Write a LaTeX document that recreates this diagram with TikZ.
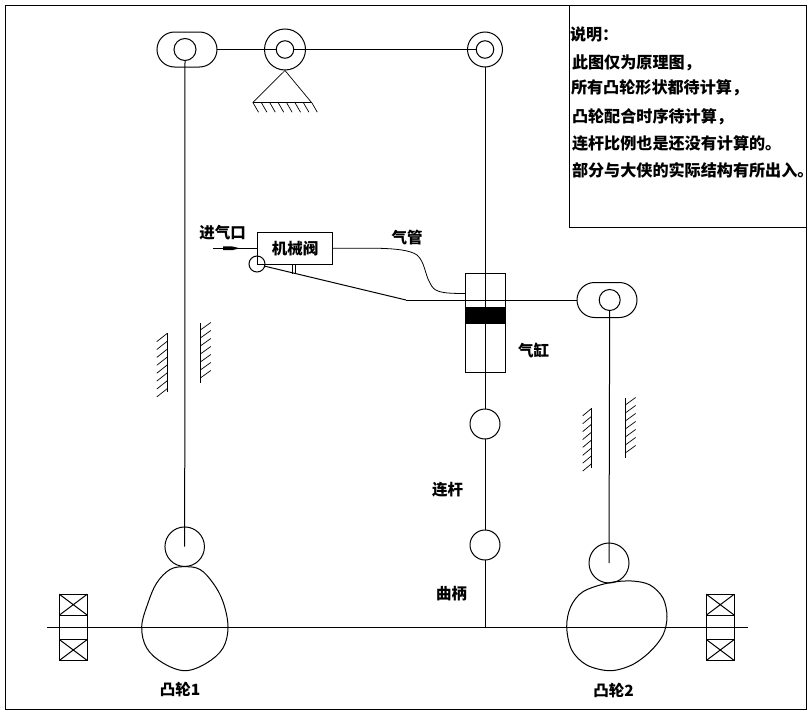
\documentclass[tikz,border=0pt]{standalone}
\usepackage{fontspec}
\newfontfamily\cjk{Noto Sans CJK SC}
\usetikzlibrary{shapes.misc}
\tikzset{
  base/.style={line width=1pt,black},
  ring/.style={base,draw,circle,inner sep=0pt,outer sep=0pt,minimum size=#1},
  slot/.style={base,draw,rounded rectangle,inner sep=0pt,outer sep=0pt,minimum width=60pt,minimum height=35pt},
  boxn/.style={base,draw,rectangle,inner sep=0pt,outer sep=0pt},
  bear/.style={boxn,minimum width=28pt,minimum height=21pt},
  lab/.style={font=\cjk\bfseries\fontsize{15.5pt}{17pt}\selectfont,inner sep=0pt,outer sep=0pt,text=black},
  note/.style={font=\cjk\bfseries\fontsize{16.1pt}{18pt}\selectfont,inner sep=0pt,outer sep=0pt,text=black,anchor=west},
  thin hatch/.style={line width=0.7pt,black}
}
\begin{document}
\begin{tikzpicture}[x=1pt,y=-1pt,base]
\useasboundingbox[fill=white] (0,0) rectangle (812,712);
% frames
\node[boxn,anchor=north west,minimum width=801pt,minimum height=704pt] (frame) at (5,5) {};
\node[boxn,anchor=north west,minimum width=236.5pt,minimum height=222.5pt] (notebox) at (569.5,5) {};
% top linkage
\node[slot] (slotA) at (187,49.5) {};
\node[ring=22pt] (slotApin) at (185,49.5) {};
\node[ring=41pt] (pivot) at (285,49.5) {};
\node[ring=17.5pt] (pivotpin) at (285,49.5) {};
\node[ring=35pt] (rock) at (485,49.5) {};
\node[ring=17.5pt] (rockpin) at (485,49.5) {};
\draw (slotA.east) -- (pivotpin.west);
\draw (pivotpin.east) -- (rockpin.west);
% fixed support
\coordinate (apex) at (285,70.5);
\coordinate (baseL) at (252.7,102.7);
\coordinate (baseR) at (311.7,102.7);
\draw[line width=0.7pt] (baseL) -- (apex) -- (baseR);
\draw (baseL) -- (baseR);
\foreach \x in {253,261.4,269.8,278.2,286.6,295,303.4,311.8}
  \draw[thin hatch] (\x,102.7) -- ++(5.5,9.5);
% guides
\draw (167.3,333.3) -- (167.3,392);
\foreach \i in {0,...,7} \draw[thin hatch] (167.3,333.3+\i*7.9) -- ++(-10.5,8.3);
\draw (200.3,322.7) -- (200.3,382.7);
\foreach \i in {0,...,6} \draw[thin hatch] (200.3,330+\i*8) -- ++(10.5,-7.5);
\draw (591.7,408.3) -- (591.7,468.3);
\foreach \i in {0,...,7} \draw[thin hatch] (591.7,408.3+\i*7.9) -- ++(-9,7.5);
\draw (625.3,398.3) -- (625.3,458.3);
\foreach \i in {0,...,6} \draw[thin hatch] (625.3,405+\i*8) -- ++(10.3,-7.5);
% cam 1 train
\node[ring=39.5pt] (roll1) at (184.7,546.7) {};
\draw (slotApin.south) -- (roll1.center);
\draw plot[smooth cycle,tension=0.6] coordinates {(185,566.7) (170,569.5) (156.7,583) (148,603) (141.7,626.7) (146.7,648) (163,663) (185,670.7) (206.7,663) (223,648) (228,626.7) (223,601.7) (213,583) (200,569.5)};
% cam 2 train
\node[slot] (slotB) at (607,300) {};
\node[ring=21pt] (slotBpin) at (609.7,300) {};
\node[ring=40pt] (roll2) at (609,563) {};
\draw (slotBpin.south) -- (roll2.center);
\draw plot[smooth cycle,tension=0.55] coordinates {(566.7,626.7) (570.7,606.7) (583,591.7) (608,583) (631.7,581) (650,585) (663,598) (667,616.7) (663,635) (650,651.7) (631.7,665) (610,670.7) (586.7,665) (571.7,650)};
% cylinder
\node[boxn,anchor=north west,minimum width=40pt,minimum height=99pt] (cyl) at (465.3,273.3) {};
\node[base,fill=black,draw=black,rectangle,inner sep=0pt,outer sep=0pt,anchor=north west,minimum width=40pt,minimum height=16.5pt] (piston) at (465.3,307.2) {};
\node[ring=30pt] (crankA) at (485,424) {};
\node[ring=30pt] (crankB) at (485,545) {};
\coordinate (shaftC) at (485,627.5);
\draw (rock.south) -- (crankA.north);
\draw (crankA.south) -- (crankB.north);
\draw (crankB.south) -- (shaftC);
% shaft
\coordinate (shaftL) at (47,627.5);
\coordinate (shaftR) at (748,627.5);
\draw (shaftL) -- (shaftR);
% bearings
\foreach \n/\cx in {L/73.3,R/720.3}{
  \node[bear] (b\n a) at (\cx,604.7) {};
  \node[bear] (b\n b) at (\cx,650) {};
  \draw (b\n a.north west) -- (b\n a.south east) (b\n a.north east) -- (b\n a.south west);
  \draw (b\n b.north west) -- (b\n b.south east) (b\n b.north east) -- (b\n b.south west);
  \draw (b\n a.south west) -- (b\n b.north west) (b\n a.south east) -- (b\n b.north east);
}
% valve
\node[boxn,anchor=north west,minimum width=75.5pt,minimum height=32pt] (valve) at (257.3,232.3) {};
\node[lab] (tvalve) at (295,249) {机械阀};
\coordinate (inlet) at (213,248.3);
\draw (inlet) -- (valve.west |- inlet);
\fill (223,246.4) -- (232,246.4) -- (240,248.3) -- (232,250.2) -- (223,250.2) -- cycle;
\node[ring=16pt] (follower) at (257,264) {};
\coordinate (leverbend) at (406,300);
\draw (follower.center) ++(7,2) -- (leverbend);
\draw (leverbend) -- (slotB.west);
\draw[line width=0.7pt] (292,264.3) -- (292,273.5) (295,264.3) -- (295,273) ;
% pipe
\draw[line width=0.8pt] (valve.east |- 0,248.3) -- (380,248.3) .. controls (395,248.8) and (410,250) .. (417,255) .. controls (425,262) and (425,275) .. (430,283) .. controls (434,292) and (440,293.5) .. (465.3,293.5);
% labels
\node[lab] (tin) at (222.5,233) {进气口};
\node[lab] (tpipe) at (407,238) {气管};
\node[lab] (tcyl) at (533.5,350) {气缸};
\node[lab] (trod) at (447.5,490) {连杆};
\node[lab] (tcrank) at (451.5,594) {曲柄};
\node[lab] (tcam1) at (180,690) {凸轮1};
\node[lab] (tcam2) at (613.5,690.5) {凸轮2};
% notes
\node[note] (n1) at (570,34) {说明：};
\node[note] (n2) at (572,63) {此图仅为原理图，};
\node[note] (n3) at (571,88) {所有凸轮形状都待计算，};
\node[note] (n4) at (572,117) {凸轮配合时序待计算，};
\node[note] (n5) at (572,143.5) {连杆比例也是还没有计算的。};
\node[note] (n6) at (572,170) {部分与大侠的实际结构有所出入。};
\end{tikzpicture}
\end{document}
